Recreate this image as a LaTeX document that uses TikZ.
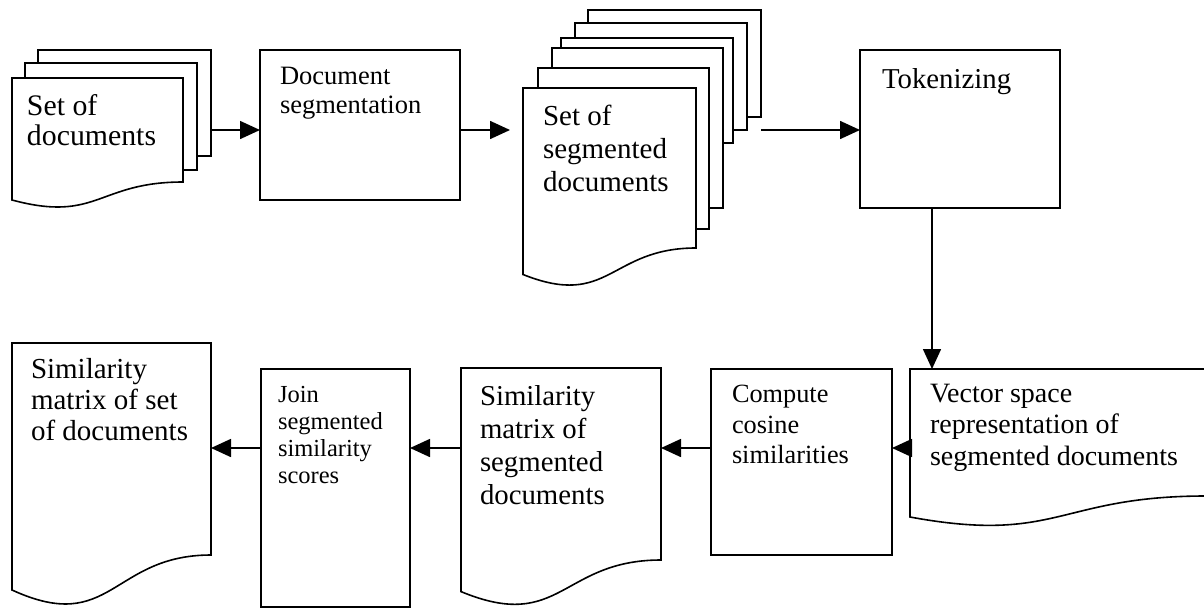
\documentclass[tikz,border=0pt]{standalone}
\usepackage{fontspec}
\setmainfont{Liberation Serif}
\usetikzlibrary{arrows.meta}
\newcommand{\fsz}[2]{\fontsize{#1}{#2}\selectfont}
\begin{document}
\begin{tikzpicture}[x=1pt,y=-1pt,
  ln/.style={line width=1.6pt, line join=miter},
  page/.style={ln, draw=black, fill=white},
  area/.style={inner sep=0pt, outer sep=0pt, anchor=north west},
  txt/.style={inner sep=0pt, outer sep=0pt, anchor=north west, align=left},
  arr/.style={ln, -{Triangle[length=20pt,width=18pt]}},
]
\clip (0,0) rectangle (1204,608);

% ---------- Set of documents (stack) ----------
\node[page, area, minimum width=173pt, minimum height=106pt] (docs3) at (38,50) {};
\node[page, area, minimum width=172pt, minimum height=107pt] (docs2) at (25,63) {};
\draw[page] (12,78) -- (183,78) -- (183,182) .. controls (97.5,182) and (97.5,223) .. (12,200) -- cycle;
\node[area, minimum width=171pt, minimum height=104pt] (docs1) at (12,78) {};
\node[txt, font=\fsz{29.8}{30}] (docs-t) at (27,94) {\strut Set of\\documents};

% ---------- Document segmentation ----------
\node[page, area, minimum width=200pt, minimum height=150pt] (docseg) at (260,50) {};
\node[txt, font=\fsz{26.5}{29}] (docseg-t) at (280,63.7) {\strut Document\\segmentation};

% ---------- Set of segmented documents (stack) ----------
\node[page, area, minimum width=173pt, minimum height=107pt] (seg6) at (588,10) {};
\node[page, area, minimum width=172pt, minimum height=107pt] (seg5) at (575,23) {};
\node[page, area, minimum width=172pt, minimum height=105pt] (seg4) at (561,38) {};
\node[page, area, minimum width=171pt, minimum height=160pt] (seg3) at (552,48) {};
\node[page, area, minimum width=171pt, minimum height=161pt] (seg2) at (538,68) {};
\draw[page] (523,88) -- (696,88) -- (696,248) .. controls (609.5,248) and (609.5,309) .. (523,274.5) -- cycle;
\node[area, minimum width=173pt, minimum height=160pt] (seg1) at (523,88) {};
\node[txt, font=\fsz{29}{33}] (seg-t) at (543,101.9) {\strut Set of\\segmented\\documents};

% ---------- Tokenizing ----------
\node[page, area, minimum width=200pt, minimum height=158pt] (tok) at (860,50) {};
\node[txt, font=\fsz{28.8}{32}] (tok-t) at (882,65.6) {\strut Tokenizing};

% ---------- Vector space representation ----------
\draw[page] (910,369) -- (1206,369) -- (1206,496) .. controls (1058,496) and (1058,544.3) .. (910,517) -- cycle;
\node[area, minimum width=296pt, minimum height=127pt] (vec) at (910,369) {};
\node[txt, font=\fsz{28}{31.5}] (vec-t) at (930,380) {\strut Vector space\\representation of\\segmented documents};

% ---------- Compute cosine similarities ----------
\node[page, area, minimum width=181pt, minimum height=186pt] (comp) at (711,369) {};
\node[txt, font=\fsz{26.3}{30.5}] (comp-t) at (732,381.6) {\strut Compute\\cosine\\similarities};

% ---------- Similarity matrix of segmented documents ----------
\draw[page] (461,368) -- (661,368) -- (661,560) .. controls (561,560) and (561,633) .. (461,591.6) -- cycle;
\node[area, minimum width=200pt, minimum height=192pt] (simseg) at (461,368) {};
\node[txt, font=\fsz{28.8}{33.3}] (simseg-t) at (480,381.7) {\strut Similarity\\matrix of\\segmented\\documents};

% ---------- Join segmented similarity scores ----------
\node[page, area, minimum width=149pt, minimum height=238pt] (join) at (261,369) {};
\node[txt, font=\fsz{24.5}{27.3}] (join-t) at (278,382.9) {\strut Join\\segmented\\similarity\\scores};

% ---------- Similarity matrix of set of documents ----------
\draw[page] (12,343) -- (211,343) -- (211,555) .. controls (111.5,555) and (111.5,635.6) .. (12,590) -- cycle;
\node[area, minimum width=199pt, minimum height=212pt] (simset) at (12,343) {};
\node[txt, font=\fsz{29}{31}] (simset-t) at (31,356.3) {\strut Similarity\\matrix of set\\of documents};

% ---------- connectors ----------
\coordinate (r1) at (0,130);
\coordinate (r2) at (0,448);
\coordinate (vx) at (932,0);
\draw[arr] (docs3.east |- r1) -- (docseg.west |- r1);
\draw[arr, shorten >=13pt] (docseg.east |- r1) -- (seg1.west |- r1);
\draw[arr] (seg6.east |- r1) -- (tok.west |- r1);
\draw[arr] (tok.south -| vx) -- (vec.north -| vx);
\draw[arr] (vec.west |- r2) -- (comp.east |- r2);
\draw[arr] (comp.west |- r2) -- (simseg.east |- r2);
\draw[arr] (simseg.west |- r2) -- (join.east |- r2);
\draw[arr] (join.west |- r2) -- (simset.east |- r2);
\end{tikzpicture}
\end{document}
